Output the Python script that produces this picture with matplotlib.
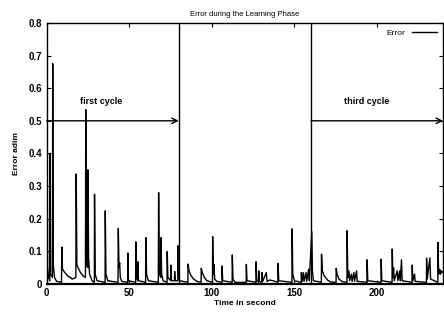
import matplotlib
matplotlib.use("Agg")
import matplotlib.pyplot as plt

plt.rcParams['font.family'] = ['Liberation Sans', 'DejaVu Sans']

# Error trace (time in s, error)
time_s = [0, 0.3, 0.6, 1.2, 1.9, 2.1, 2.4, 3.5, 3.7, 4.0, 4.8, 6.0,
          9.0, 9.2, 9.6, 11.0, 13.3, 14.5, 15.5, 17.7, 17.9, 18.3, 19.0, 20.5, 22.0,
          23.5, 23.7, 24.0, 24.9, 25.0, 25.4, 26.0, 27.5, 28.9, 29.0, 29.4, 30.5,
          35.4, 35.5, 35.9, 37.0, 43.2, 43.4, 43.8, 44.2, 44.6, 45.5,
          49.1, 49.2, 49.5, 53.9, 54.0, 54.4, 55.2, 55.3, 55.6,
          59.9, 60.1, 60.5, 61.5, 67.6, 67.8, 68.2, 69.1, 69.2, 69.6, 70.5,
          72.9, 73.0, 73.4, 75.2, 75.3, 75.6, 77.4, 77.5, 77.8,
          79.4, 79.5, 79.9, 80.5, 85.5, 85.6, 86.2, 87.5, 89.0, 91.0,
          93.5, 93.6, 94.2, 95.5, 97.0, 100.4, 100.5, 100.9, 101.3, 101.7, 103.0,
          106.1, 106.2, 106.6, 112.3, 112.4, 112.8, 114.0, 120.8, 120.9, 121.3,
          126.7, 126.8, 127.2, 128.3, 128.4, 128.8, 130.3, 130.4, 130.8, 133.0, 133.4,
          135.0, 137.0, 140.0, 140.1, 140.5, 148.5, 148.6, 149.0, 150.0,
          154.1, 154.2, 154.6, 155.4, 155.8, 157.0, 157.4, 158.6, 159.0,
          160.5, 160.9, 161.5, 166.3, 166.4, 166.9, 168.0, 170.0, 172.0,
          175.2, 175.3, 175.8, 177.0, 179.0, 181.8, 181.9, 182.3, 183.0, 183.4,
          184.5, 184.9, 186.0, 186.4, 187.6, 188.0, 193.9, 194.0, 194.4,
          202.4, 202.5, 202.9, 209.1, 209.2, 209.6, 210.0, 210.4, 212.2, 212.6,
          213.7, 214.1, 214.8, 215.2, 221.2, 221.3, 221.7, 222.7, 223.1,
          229.9, 230.0, 230.4, 232.0, 232.4, 236.8, 236.9, 237.3, 238.0, 238.5, 239.0, 240.0]
error = [0.0, 0.42, 0.05, 0.02, 0.01, 0.40, 0.03, 0.02, 0.675, 0.06, 0.02, 0.008,
         0.005, 0.113, 0.045, 0.035, 0.022, 0.02, 0.015, 0.02, 0.337, 0.06, 0.05, 0.035, 0.025,
         0.02, 0.534, 0.06, 0.05, 0.35, 0.08, 0.03, 0.01, 0.005, 0.275, 0.03, 0.01,
         0.005, 0.224, 0.03, 0.01, 0.005, 0.17, 0.05, 0.065, 0.02, 0.008,
         0.005, 0.095, 0.01, 0.005, 0.129, 0.02, 0.01, 0.068, 0.01,
         0.005, 0.142, 0.03, 0.01, 0.005, 0.28, 0.03, 0.02, 0.142, 0.03, 0.01,
         0.005, 0.099, 0.02, 0.01, 0.058, 0.01, 0.01, 0.038, 0.01,
         0.01, 0.117, 0.03, 0.01, 0.005, 0.061, 0.04, 0.025, 0.015, 0.008,
         0.005, 0.048, 0.035, 0.02, 0.01, 0.005, 0.145, 0.03, 0.06, 0.015, 0.008,
         0.005, 0.055, 0.01, 0.005, 0.089, 0.015, 0.005, 0.005, 0.06, 0.01,
         0.005, 0.068, 0.01, 0.005, 0.04, 0.008, 0.005, 0.035, 0.008, 0.035, 0.008,
         0.012, 0.01, 0.005, 0.063, 0.01, 0.005, 0.169, 0.03, 0.01,
         0.005, 0.035, 0.008, 0.035, 0.008, 0.035, 0.008, 0.045, 0.01,
         0.16, 0.04, 0.01, 0.005, 0.091, 0.04, 0.025, 0.012, 0.006,
         0.005, 0.048, 0.03, 0.015, 0.007, 0.005, 0.163, 0.02, 0.04, 0.01,
         0.03, 0.008, 0.035, 0.008, 0.04, 0.008, 0.005, 0.074, 0.01,
         0.005, 0.076, 0.01, 0.005, 0.107, 0.02, 0.05, 0.01, 0.04, 0.01,
         0.04, 0.01, 0.074, 0.01, 0.005, 0.058, 0.01, 0.03, 0.008,
         0.005, 0.079, 0.015, 0.08, 0.015, 0.005, 0.127, 0.03, 0.045, 0.03, 0.04, 0.035]

cycle_bounds = [80, 160]
cycle_labels = ["first cycle", "third cycle"]
arrow_spans = [(0, 80), (160, 240)]
label_pos = [(20, 0.545), (180, 0.545)]
x_ticks = [0, 50, 100, 150, 200]
y_ticks = [0, 0.1, 0.2, 0.3, 0.4, 0.5, 0.6, 0.7, 0.8]

fig = plt.figure(figsize=(4.44, 3.18), dpi=100)
ax = fig.add_axes([0.105, 0.107, 0.893, 0.821])

ax.plot(time_s, error, color='black', lw=1.0, label='Error')

for xb in cycle_bounds:
    ax.axvline(xb, color='black', lw=1.0)

for (x0, x1) in arrow_spans:
    ax.annotate('', xy=(x1, 0.5), xytext=(x0, 0.5),
                arrowprops=dict(arrowstyle='->', color='black', lw=1.0,
                                shrinkA=0, shrinkB=0))
for txt, (tx, ty) in zip(cycle_labels, label_pos):
    ax.text(tx, ty, txt, fontsize=6.5, fontweight='bold', ha='left', va='bottom')

ax.set_xlim(0, 240)
ax.set_ylim(0, 0.8)
ax.set_xticks(x_ticks)
ax.set_yticks(y_ticks)
ax.set_xticklabels([str(v) for v in x_ticks])
ax.set_yticklabels(['0'] + [f'{v:.1f}' for v in y_ticks[1:]])
ax.tick_params(direction='in', top=True, right=True, length=3, width=0.8,
               labelsize=7, pad=3)
for lab in ax.get_xticklabels() + ax.get_yticklabels():
    lab.set_fontweight('bold')
for sp in ax.spines.values():
    sp.set_linewidth(1.0)
ax.spines['bottom'].set_linewidth(1.6)

ax.set_title('Error during the Learning Phase', fontsize=5.5, pad=5)
ax.set_xlabel('Time in second', fontsize=6, fontweight='bold', labelpad=1)
ax.set_ylabel('Error adim', fontsize=6, fontweight='bold', labelpad=6)

leg = ax.legend(loc='upper right', frameon=False, fontsize=6, markerfirst=False,
                handlelength=3, borderaxespad=0.3)

fig.savefig('out.png', dpi=100)
